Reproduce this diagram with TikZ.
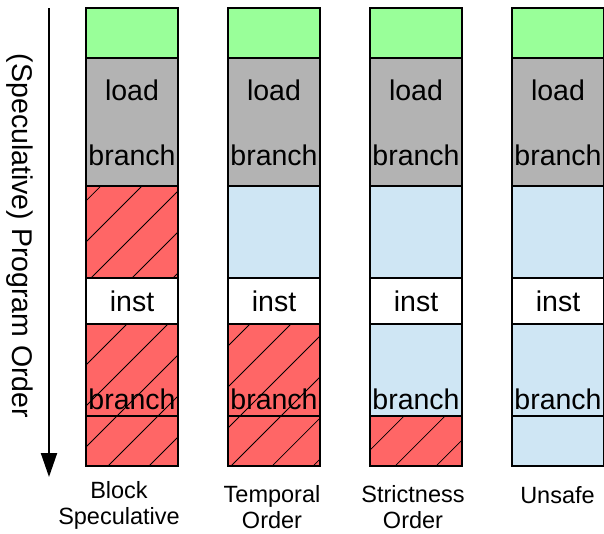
\documentclass[tikz,border=0pt]{standalone}
\usepackage{fontspec}
\setmainfont{Liberation Sans}
\usetikzlibrary{arrows.meta,patterns.meta}
\definecolor{cgreen}{RGB}{153,255,153}
\definecolor{cgray}{RGB}{179,179,179}
\definecolor{cred}{RGB}{255,102,102}
\definecolor{cblue}{RGB}{207,230,244}
\tikzset{
  cell/.style={draw=black, line width=2pt, inner sep=0pt, outer sep=0pt,
    minimum width=92pt, anchor=north west},
  hatched/.style={preaction={fill=cred},
    pattern={Lines[angle=45,distance=29pt,line width=0.8pt]}},
  safe/.style={fill=cblue},
  txt/.style={font=\fontsize{28.5}{34}\selectfont, anchor=base, inner sep=0pt},
  lab/.style={font=\fontsize{23.5}{25.5}\selectfont, align=center, anchor=base, inner sep=0pt},
  axislab/.style={font=\fontsize{28.5}{34}\selectfont, rotate=-90, inner sep=0pt},
  axisarrow/.style={line width=2pt, -{Triangle[length=24pt,width=16pt]}}
}
\begin{document}
\begin{tikzpicture}[x=1pt,y=1pt]
\useasboundingbox (0,0) rectangle (604,-533);
\foreach \i/\x/\fa/\fb/\fe in {1/86/hatched/hatched/hatched,2/228/safe/hatched/hatched,3/370/safe/safe/hatched,4/512/safe/safe/safe}{
  \node[cell, fill=cgreen, minimum height=50pt] (c\i-g) at (\x,-8) {};
  \node[cell, fill=cgray, minimum height=128pt] (c\i-lb) at (\x,-58) {};
  \node[cell, \fa, minimum height=92pt] (c\i-a) at (\x,-186) {};
  \node[cell, fill=white, minimum height=46pt] (c\i-i) at (\x,-278) {};
  \node[cell, \fb, minimum height=92pt] (c\i-b) at (\x,-324) {};
  \node[cell, \fe, minimum height=50pt] (c\i-e) at (\x,-416) {};
  \node[txt] (c\i-load) at (\x+46,-100) {load};
  \node[txt] (c\i-br1) at (\x+46,-165) {branch};
  \node[txt] (c\i-inst) at (\x+46,-311) {inst};
  \node[txt] (c\i-br2) at (\x+46,-409) {branch};
}
\coordinate (atop) at (49,-8);
\coordinate (abot) at (49,-477);
\draw[axisarrow] (atop) -- (abot);
\node[axislab] (axis) at (20,-236) {(Speculative) Program Order};
\node[lab] (l1) at (119,-524) {Block\\Speculative};
\node[lab] (l2) at (272,-528) {Temporal\\Order};
\node[lab] (l3) at (413,-528) {Strictness\\Order};
\node[lab] (l4) at (557.5,-503) {Unsafe};
\end{tikzpicture}
\end{document}
